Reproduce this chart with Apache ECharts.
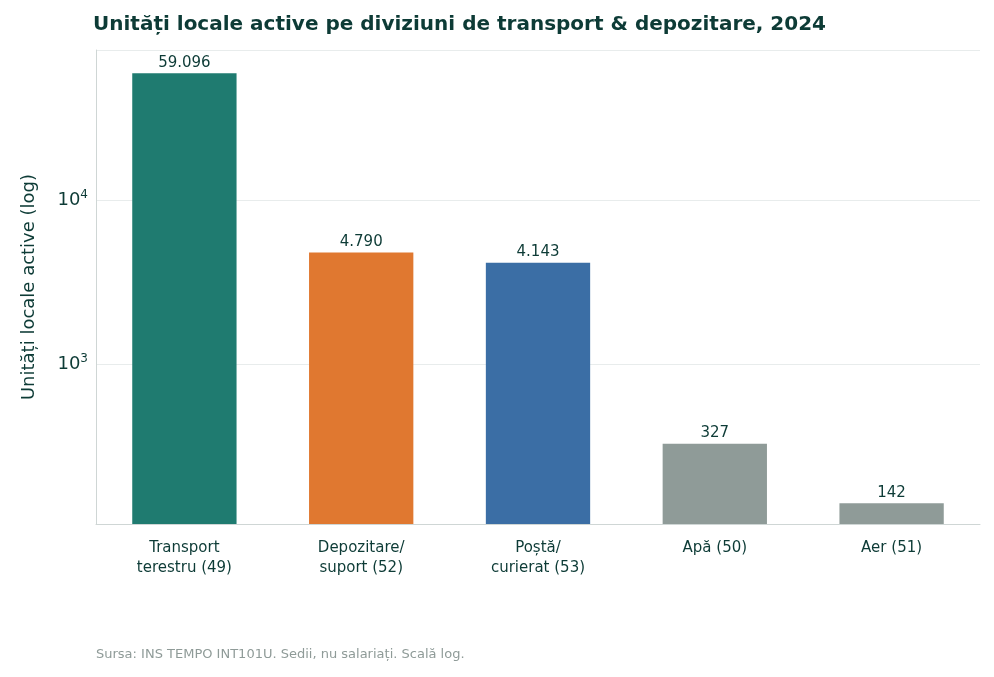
<!DOCTYPE html>
<html><head><meta charset="utf-8">
<script src="https://cdn.jsdelivr.net/npm/echarts@6/dist/echarts.min.js"></script>
<style>html,body{margin:0;padding:0;background:#fff}#c{width:994px;height:677px}</style>
</head><body><div id="c"></div>
<script>
const categories = ["Transport\nterestru (49)", "Depozitare/\nsuport (52)", "Poștă/\ncurierat (53)", "Apă (50)", "Aer (51)"];
const values = [59096, 4790, 4143, 327, 142];
const colors = ["#1f7b70", "#e07830", "#3b6ea5", "#8f9b98", "#8f9b98"];
const dark = "#0d3b36";
const fmt = v => String(v).replace(/\B(?=(\d{3})+(?!\d))/g, ".");
const chart = echarts.init(document.getElementById('c'));
chart.setOption({
  animation: false,
  title: { text: "Unități locale active pe diviziuni de transport & depozitare, 2024", left: 88, top: 10,
    textStyle: { fontFamily: "DejaVu Sans", fontSize: 20, fontWeight: "bold", color: dark } },
  graphic: [{ type: "text", left: 96, top: 648, style: { text: "Sursa: INS TEMPO INT101U. Sedii, nu salariați. Scală log.", fill: "#8f9b98", font: "13px DejaVu Sans" } }],
  grid: { left: 96, right: 14, top: 50, bottom: 153 },
  xAxis: { type: "category", data: categories,
    axisLine: { lineStyle: { color: "#cfd6d5" } },
    axisTick: { alignWithLabel: true, length: 6, lineStyle: { color: "#333" } },
    axisLabel: { color: dark, fontSize: 15, fontFamily: "DejaVu Sans", lineHeight: 20, margin: 14 } },
  yAxis: { type: "log", logBase: 10, min: 106, max: 82000,
    name: "Unități locale active (log)", nameLocation: "middle", nameGap: 58,
    nameTextStyle: { color: dark, fontSize: 18, fontFamily: "DejaVu Sans" },
    axisLine: { show: true, lineStyle: { color: "#cfd6d5" } },
    axisTick: { show: false },
    splitLine: { show: true, lineStyle: { color: "#e8ecec" } },
    axisLabel: { color: dark, fontSize: 18, fontFamily: "DejaVu Sans",
      formatter: v => { const l = Math.log10(v); return Math.abs(l - Math.round(l)) < 1e-6 ? "10{s|" + Math.round(l) + "}" : ""; },
      rich: { s: { fontSize: 12, verticalAlign: "top", padding: [0,0,10,0], color: dark } } } },
  series: [{ type: "bar", barWidth: "59%",
    data: values.map((v, i) => ({ value: v, itemStyle: { color: colors[i] } })),
    label: { show: true, position: "top", color: dark, fontSize: 15, fontFamily: "DejaVu Sans", distance: 3,
      formatter: p => fmt(p.value) } }]
});
</script></body></html>
